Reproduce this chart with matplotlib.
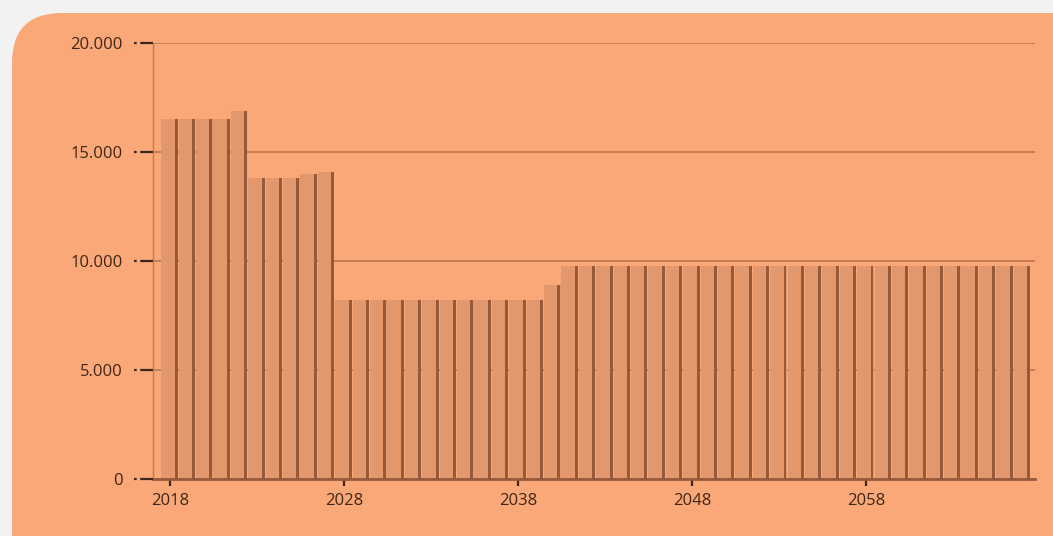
import numpy as np
import matplotlib.pyplot as plt
from matplotlib.patches import FancyBboxPatch

# values
years = list(range(2018, 2068))
values = ([16500] * 4 + [16900] + [13800] * 3 + [14000, 14100]
          + [8200] * 12 + [8900] + [9750] * 27)
y_ticks = [0, 5000, 10000, 15000, 20000]
y_tick_labels = ['0', '5.000', '10.000', '15.000', '20.000']
x_ticks = [2018, 2028, 2038, 2048, 2058]

bg = '#FAA877'
face = '#E2976C'
shade = '#98593A'
grid_c = '#C07A52'
txt = '#3E2618'

fig = plt.figure(figsize=(10.53, 5.36), dpi=100)
fig.patch.set_facecolor('#F2F2F2')

# rounded orange panel behind the chart
panel = FancyBboxPatch((0.12, -0.6), 11.0, 5.23 + 0.6,
                       boxstyle='round,pad=0,rounding_size=0.5',
                       transform=fig.dpi_scale_trans,
                       facecolor=bg, edgecolor='none', zorder=-10)
fig.patches.append(panel)

ax = fig.add_axes([153 / 1053, 1 - 479 / 536, (1035 - 153) / 1053, (479 - 43) / 536])
ax.set_facecolor('none')
ax.set_zorder(5)

x = np.array(years)
v = np.array(values)
ax.bar(x - 0.05, v, width=0.95, color=face, edgecolor='none', zorder=2)
ax.bar(x + 0.33, v, width=0.17, color=shade, edgecolor='none', zorder=3)

ax.set_xlim(2017.0, 2067.7)
ax.set_ylim(0, 20000)

ax.set_yticks(y_ticks)
ax.set_yticklabels(y_tick_labels)
ax.set_xticks(x_ticks)
ax.set_xticklabels([str(t) for t in x_ticks])

ax.yaxis.grid(True, color=grid_c, linewidth=1.3, zorder=1)
ax.set_axisbelow(True)

# dashed "-–" tick marks on the value axis
for t in y_ticks:
    ax.plot([-0.021, 0], [t, t], transform=ax.get_yaxis_transform(),
            color=txt, lw=1.6, ls=(0, (1.2, 1.6, 6, 10)),
            clip_on=False, zorder=6)

for s in ['top', 'right']:
    ax.spines[s].set_visible(False)
ax.spines['left'].set_color(grid_c)
ax.spines['left'].set_linewidth(1.0)
ax.spines['bottom'].set_color(shade)
ax.spines['bottom'].set_linewidth(2.0)
ax.spines['bottom'].set_zorder(4)

ax.tick_params(axis='y', length=0, pad=22, labelsize=12, labelcolor=txt)
ax.tick_params(axis='x', length=5, width=1.6, color=txt, pad=5,
               labelsize=12, labelcolor=txt)
for lab in ax.get_yticklabels() + ax.get_xticklabels():
    lab.set_fontfamily('Open Sans')

plt.savefig('out.png', dpi=100, facecolor=fig.get_facecolor())
